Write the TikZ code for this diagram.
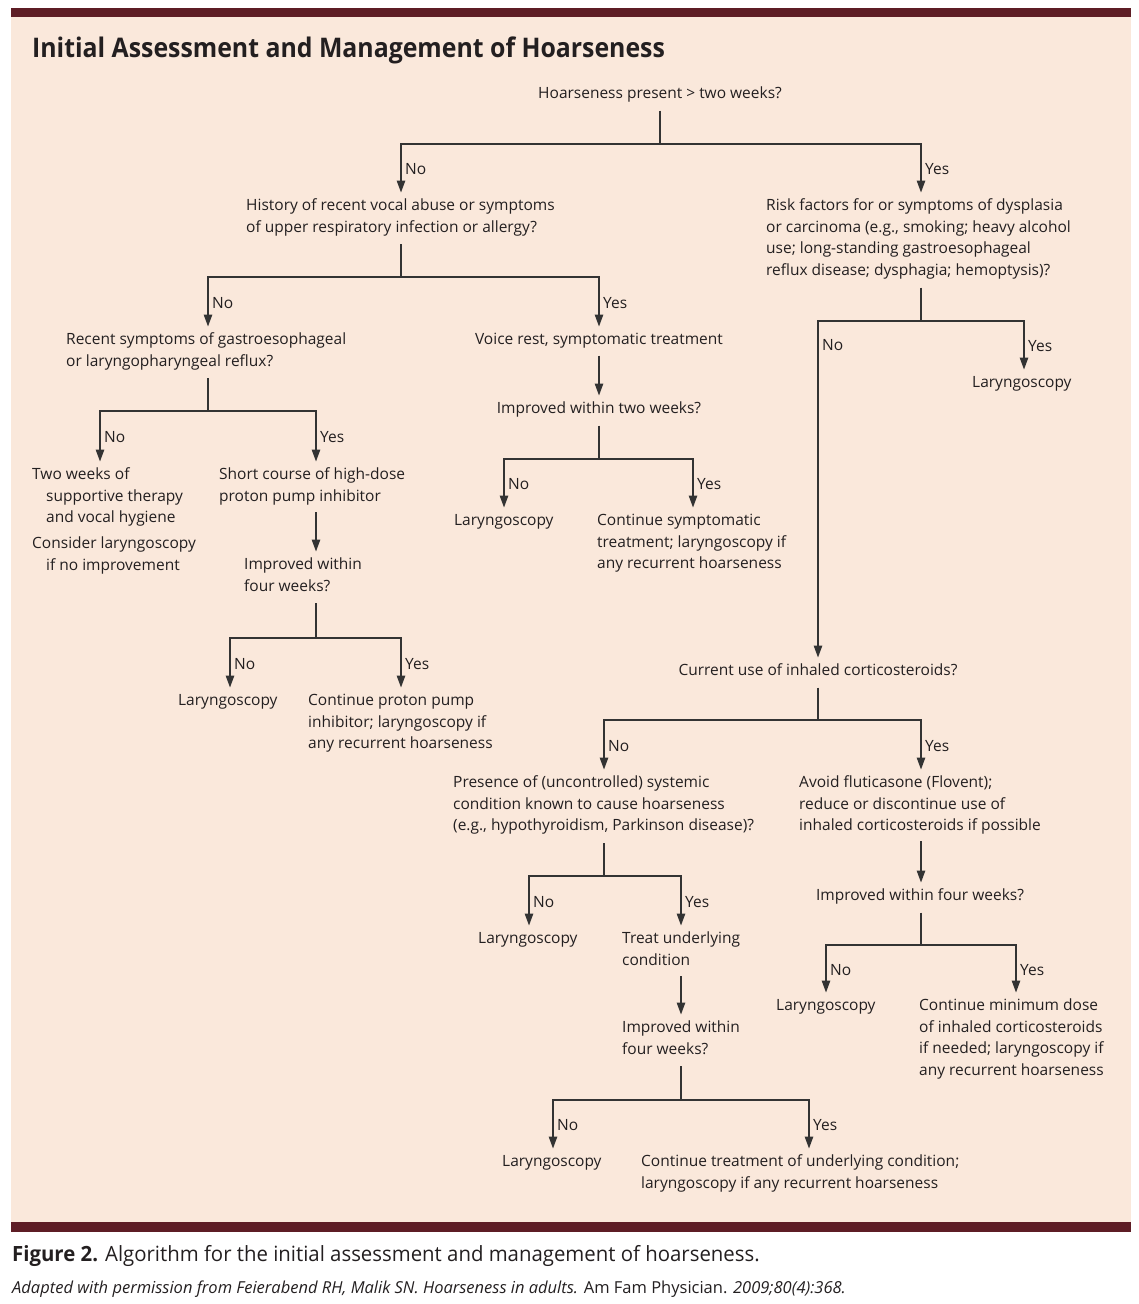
\documentclass[tikz,border=0pt]{standalone}
\usepackage{fontspec}
\setmainfont{Open Sans}
\newfontfamily\titlefont{Open Sans}[FakeStretch=0.92]
\newfontfamily\capfont{Open Sans}[FakeStretch=0.97]
\usetikzlibrary{arrows.meta}
\definecolor{bg}{HTML}{FAE8DB}
\definecolor{bar}{HTML}{5E1D25}
\definecolor{ink}{HTML}{231F20}
\definecolor{wire}{HTML}{333333}
\newcommand\bodyfont{\fontsize{15.5}{21.7}\selectfont}
\begin{document}
\begin{tikzpicture}[x=1pt,y=-1pt,
 txt/.style={anchor=north west,inner sep=0pt,align=left,font=\bodyfont,text=ink},
 ctxt/.style={txt,anchor=north,align=center},
 ln/.style={draw=wire,line width=1.3pt},
 arr/.style={ln,shorten >=2.5pt,-{Triangle[length=12pt,width=8.5pt]}},
 lbl/.style={anchor=west,inner sep=0pt,xshift=3.5pt,font=\bodyfont,text=ink}]
\useasboundingbox (0,0) rectangle (1138,1304);
\fill[bg] (11,17) rectangle (1131,1222);
\fill[bar] (11,8) rectangle (1131,17);
\fill[bar] (11,1222) rectangle (1131,1232);
\node[anchor=base west,inner sep=0pt,text=ink,font=\titlefont\bfseries\fontsize{27}{30}\selectfont] (title) at (32,57) {Initial Assessment and Management of Hoarseness};
\node[anchor=base west,inner sep=0pt,text=ink,font=\capfont\fontsize{21}{24}\selectfont] (cap) at (12,1261) {\textbf{Figure 2.} Algorithm for the initial assessment and management of hoarseness.};
\node[anchor=base west,inner sep=0pt,text=ink,font=\itshape\fontsize{16.5}{18}\selectfont] (src) at (12,1293) {Adapted with permission from Feierabend RH, Malik SN. Hoarseness in adults. \upshape Am Fam Physician. \itshape 2009;80(4):368.};

% nodes
\node[ctxt] (q1) at (660,83) {\strut Hoarseness present > two weeks?\strut};
\node[txt] (q2) at (246,195) {\strut History of recent vocal abuse or symptoms\\of upper respiratory infection or allergy?\strut};
\node[txt] (q3) at (66,329) {\strut Recent symptoms of gastroesophageal\\or laryngopharyngeal reflux?\strut};
\node[txt] (a1) at (32,464) {\strut Two weeks of\\\hspace*{14pt}supportive therapy\\\hspace*{14pt}and vocal hygiene\\[4.3pt]Consider laryngoscopy\\\hspace*{14pt}if no improvement\strut};
\node[txt] (a2) at (219,464) {\strut Short course of high-dose\\proton pump inhibitor\strut};
\node[txt] (q4) at (244,554) {\strut Improved within\\four weeks?\strut};
\node[txt] (a3) at (178,690) {\strut Laryngoscopy\strut};
\node[txt] (a4) at (308,690) {\strut Continue proton pump\\inhibitor; laryngoscopy if\\any recurrent hoarseness\strut};
\node[ctxt] (m1) at (599,329) {\strut Voice rest, symptomatic treatment\strut};
\node[ctxt] (m2) at (599,398) {\strut Improved within two weeks?\strut};
\node[txt] (m3) at (454,510) {\strut Laryngoscopy\strut};
\node[txt] (m4) at (597,510) {\strut Continue symptomatic\\treatment; laryngoscopy if\\any recurrent hoarseness\strut};
\node[txt] (r1) at (766,195) {\strut Risk factors for or symptoms of dysplasia\\or carcinoma (e.g., smoking; heavy alcohol\\use; long-standing gastroesophageal\\reflux disease; dysphagia; hemoptysis)?\strut};
\node[txt] (r2) at (972,372) {\strut Laryngoscopy\strut};
\node[ctxt] (r3) at (818,660) {\strut Current use of inhaled corticosteroids?\strut};
\node[txt] (r4) at (453,772) {\strut Presence of (uncontrolled) systemic\\condition known to cause hoarseness\\(e.g., hypothyroidism, Parkinson disease)?\strut};
\node[txt] (r5) at (478,928) {\strut Laryngoscopy\strut};
\node[txt] (r6) at (622,928) {\strut Treat underlying\\condition\strut};
\node[txt] (r7) at (622,1017) {\strut Improved within\\four weeks?\strut};
\node[txt] (r8) at (502,1151) {\strut Laryngoscopy\strut};
\node[txt] (r9) at (641,1151) {\strut Continue treatment of underlying condition;\\laryngoscopy if any recurrent hoarseness\strut};
\node[txt] (r10) at (799,772) {\strut Avoid fluticasone (Flovent);\\reduce or discontinue use of\\inhaled corticosteroids if possible\strut};
\node[ctxt] (r11) at (920,885) {\strut Improved within four weeks?\strut};
\node[txt] (r12) at (776,995) {\strut Laryngoscopy\strut};
\node[txt] (r13) at (919,995) {\strut Continue minimum dose\\of inhaled corticosteroids\\if needed; laryngoscopy if\\any recurrent hoarseness\strut};

% branch points
\coordinate (b1) at (660,144); \coordinate (b1L) at (401,144); \coordinate (b1R) at (921,144);
\coordinate (b2) at (401,277); \coordinate (b2L) at (208,277); \coordinate (b2R) at (599,277);
\coordinate (b3) at (208,411); \coordinate (b3L) at (100,411); \coordinate (b3R) at (316,411);
\coordinate (b4) at (316,638); \coordinate (b4L) at (230,638); \coordinate (b4R) at (401,638);
\coordinate (b5) at (599,459); \coordinate (b5L) at (504,459); \coordinate (b5R) at (693,459);
\coordinate (b6) at (921,321); \coordinate (b6L) at (818,321); \coordinate (b6R) at (1024,321);
\coordinate (b7) at (818,720); \coordinate (b7L) at (604,720); \coordinate (b7R) at (921,720);
\coordinate (b8) at (604,876); \coordinate (b8L) at (529,876); \coordinate (b8R) at (681,876);
\coordinate (b9) at (681,1100); \coordinate (b9L) at (553,1100); \coordinate (b9R) at (809,1100);
\coordinate (b10) at (921,945); \coordinate (b10L) at (826,945); \coordinate (b10R) at (1016,945);

% connectors
\draw[ln] (b1 |- q1.south) ++(0,5.5) -- (b1);
\draw[arr] (b1) -- (b1L) -- node[lbl]{No} (b1L |- q2.north);
\draw[arr] (b1) -- (b1R) -- node[lbl]{Yes} (b1R |- r1.north);

\draw[ln] (b2 |- q2.south) ++(0,5.5) -- (b2);
\draw[arr] (b2) -- (b2L) -- node[lbl]{No} (b2L |- q3.north);
\draw[arr] (b2) -- (b2R) -- node[lbl]{Yes} (b2R |- m1.north);

\draw[ln] (b3 |- q3.south) ++(0,5.5) -- (b3);
\draw[arr] (b3) -- (b3L) -- node[lbl]{No} (b3L |- a1.north);
\draw[arr] (b3) -- (b3R) -- node[lbl]{Yes} (b3R |- a2.north);
\draw[arr] (b3R |- a2.south) ++(0,4.5) -- (b3R |- q4.north);

\draw[ln] (b4 |- q4.south) ++(0,5.5) -- (b4);
\draw[arr] (b4) -- (b4L) -- node[lbl]{No} (b4L |- a3.north);
\draw[arr] (b4) -- (b4R) -- node[lbl]{Yes} (b4R |- a4.north);

\draw[arr] (m1.south) ++(0,4.5) -- (m2.north);
\draw[ln] (b5 |- m2.south) ++(0,5.5) -- (b5);
\draw[arr] (b5) -- (b5L) -- node[lbl]{No} (b5L |- m3.north);
\draw[arr] (b5) -- (b5R) -- node[lbl]{Yes} (b5R |- m4.north);

\draw[ln] (b6 |- r1.south) ++(0,5.5) -- (b6);
\draw[arr] (b6) -- (b6L) -- node[lbl,pos=0.07]{No} (b6L |- r3.north);
\draw[arr] (b6) -- (b6R) -- node[lbl]{Yes} (b6R |- r2.north);

\draw[ln] (b7 |- r3.south) ++(0,5.5) -- (b7);
\draw[arr] (b7) -- (b7L) -- node[lbl]{No} (b7L |- r4.north);
\draw[arr] (b7) -- (b7R) -- node[lbl]{Yes} (b7R |- r10.north);

\draw[ln] (b8 |- r4.south) ++(0,5.5) -- (b8);
\draw[arr] (b8) -- (b8L) -- node[lbl]{No} (b8L |- r5.north);
\draw[arr] (b8) -- (b8R) -- node[lbl]{Yes} (b8R |- r6.north);
\draw[arr] (b8R |- r6.south) ++(0,4.5) -- (b8R |- r7.north);

\draw[ln] (b9 |- r7.south) ++(0,5.5) -- (b9);
\draw[arr] (b9) -- (b9L) -- node[lbl]{No} (b9L |- r8.north);
\draw[arr] (b9) -- (b9R) -- node[lbl]{Yes} (b9R |- r9.north);

\draw[arr] (b7R |- r10.south) ++(0,3.5) -- (b7R |- r11.north);
\draw[ln] (b10 |- r11.south) ++(0,5.5) -- (b10);
\draw[arr] (b10) -- (b10L) -- node[lbl]{No} (b10L |- r12.north);
\draw[arr] (b10) -- (b10R) -- node[lbl]{Yes} (b10R |- r13.north);
\end{tikzpicture}
\end{document}
